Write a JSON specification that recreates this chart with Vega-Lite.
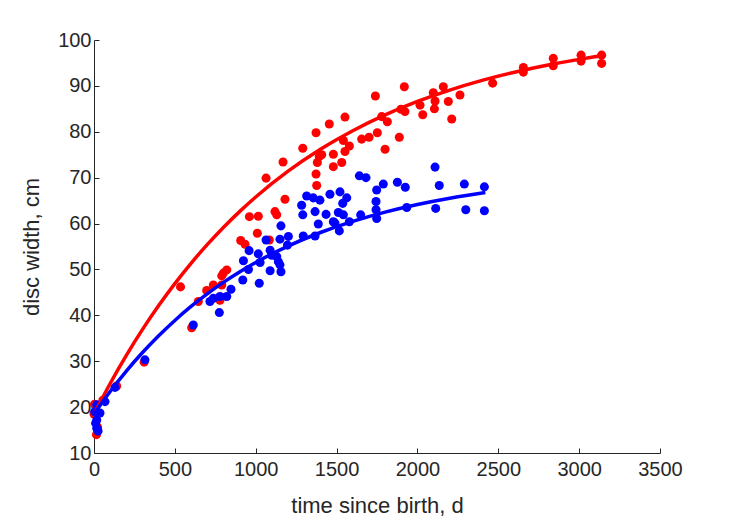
{
  "$schema": "https://vega.github.io/schema/vega-lite/v6.json",
  "autosize": {"type": "none"},
  "padding": {"left": 94, "top": 40, "right": 69, "bottom": 68},
  "width": 566,
  "height": 413,
  "background": "white",
  "config": {
    "view": {"stroke": null},
    "font": "Liberation Sans",
    "axis": {
      "grid": false,
      "domainColor": "#262626",
      "domainWidth": 1,
      "tickColor": "#262626",
      "tickSize": -5,
      "labelColor": "#262626",
      "labelFontSize": 20,
      "labelFont": "Liberation Sans",
      "titleColor": "#262626",
      "titleFontSize": 22,
      "titleFont": "Liberation Sans",
      "titleFontWeight": "normal",
      "format": "d"
    }
  },
  "datasets": {
    "redPts": [
      {"t": 3, "w": 20.6}, {"t": 0, "w": 18.5}, {"t": 22, "w": 15.6}, {"t": 15, "w": 14.0}, {"t": 55, "w": 21.5}, {"t": 140, "w": 24.6},
      {"t": 310, "w": 29.8}, {"t": 535, "w": 46.2}, {"t": 604, "w": 37.3}, {"t": 645, "w": 43.0}, {"t": 697, "w": 45.4},
      {"t": 738, "w": 46.6}, {"t": 779, "w": 43.3}, {"t": 790, "w": 46.6}, {"t": 790, "w": 48.6}, {"t": 800, "w": 49.2},
      {"t": 821, "w": 49.9}, {"t": 907, "w": 56.3}, {"t": 934, "w": 55.5}, {"t": 961, "w": 61.5}, {"t": 1010, "w": 57.9},
      {"t": 1016, "w": 61.6}, {"t": 1064, "w": 69.9}, {"t": 1084, "w": 56.4}, {"t": 1119, "w": 62.6}, {"t": 1130, "w": 61.9},
      {"t": 1169, "w": 73.4}, {"t": 1181, "w": 65.3}, {"t": 1291, "w": 76.4}, {"t": 1373, "w": 79.8}, {"t": 1373, "w": 70.8},
      {"t": 1377, "w": 68.3}, {"t": 1381, "w": 73.3}, {"t": 1393, "w": 74.6}, {"t": 1408, "w": 75.0}, {"t": 1455, "w": 81.7},
      {"t": 1480, "w": 75.1}, {"t": 1480, "w": 72.4}, {"t": 1532, "w": 73.3}, {"t": 1542, "w": 78.1}, {"t": 1552, "w": 83.2},
      {"t": 1552, "w": 75.7}, {"t": 1579, "w": 76.9}, {"t": 1655, "w": 78.4}, {"t": 1701, "w": 78.8}, {"t": 1740, "w": 87.8},
      {"t": 1752, "w": 79.8}, {"t": 1779, "w": 83.3}, {"t": 1800, "w": 76.2}, {"t": 1814, "w": 82.2}, {"t": 1888, "w": 78.8},
      {"t": 1898, "w": 84.9}, {"t": 1919, "w": 89.8}, {"t": 1923, "w": 84.4}, {"t": 2016, "w": 85.8}, {"t": 2033, "w": 83.7},
      {"t": 2098, "w": 88.5}, {"t": 2105, "w": 85.0}, {"t": 2109, "w": 86.7}, {"t": 2160, "w": 89.8}, {"t": 2191, "w": 86.6},
      {"t": 2212, "w": 82.8}, {"t": 2263, "w": 88.0}, {"t": 2465, "w": 90.6}, {"t": 2655, "w": 94.0}, {"t": 2655, "w": 93.0},
      {"t": 2840, "w": 96.0}, {"t": 2840, "w": 94.4}, {"t": 3012, "w": 96.7}, {"t": 3012, "w": 95.4}, {"t": 3139, "w": 96.7},
      {"t": 3139, "w": 94.9}
    ],
    "bluePts": [
      {"t": 17, "w": 20.5}, {"t": 37, "w": 18.7}, {"t": 17, "w": 17.2}, {"t": 17, "w": 15.4}, {"t": 25, "w": 14.8},
      {"t": 5, "w": 19.0}, {"t": 10, "w": 16.5}, {"t": 68, "w": 21.2}, {"t": 130, "w": 24.3}, {"t": 315, "w": 30.3},
      {"t": 614, "w": 37.9}, {"t": 717, "w": 43.0}, {"t": 738, "w": 43.7}, {"t": 775, "w": 40.6}, {"t": 779, "w": 44.1},
      {"t": 821, "w": 44.1}, {"t": 847, "w": 45.7}, {"t": 920, "w": 47.7}, {"t": 924, "w": 51.9}, {"t": 955, "w": 50.0},
      {"t": 959, "w": 54.1}, {"t": 1016, "w": 53.4}, {"t": 1022, "w": 47.0}, {"t": 1027, "w": 51.5}, {"t": 1064, "w": 56.4},
      {"t": 1089, "w": 54.2}, {"t": 1089, "w": 49.7}, {"t": 1099, "w": 53.1}, {"t": 1130, "w": 52.8}, {"t": 1140, "w": 51.7},
      {"t": 1150, "w": 51.0}, {"t": 1150, "w": 56.6}, {"t": 1156, "w": 59.5}, {"t": 1156, "w": 49.5}, {"t": 1196, "w": 55.3},
      {"t": 1202, "w": 57.2}, {"t": 1284, "w": 64.0}, {"t": 1291, "w": 61.9}, {"t": 1294, "w": 57.3}, {"t": 1315, "w": 66.0},
      {"t": 1356, "w": 65.6}, {"t": 1367, "w": 62.6}, {"t": 1367, "w": 57.3}, {"t": 1387, "w": 59.9}, {"t": 1397, "w": 65.1},
      {"t": 1435, "w": 62.0}, {"t": 1459, "w": 66.4}, {"t": 1480, "w": 60.4}, {"t": 1490, "w": 60.1}, {"t": 1511, "w": 62.4},
      {"t": 1517, "w": 58.4}, {"t": 1521, "w": 66.9}, {"t": 1538, "w": 64.4}, {"t": 1542, "w": 61.9}, {"t": 1563, "w": 65.6},
      {"t": 1579, "w": 60.4}, {"t": 1641, "w": 70.4}, {"t": 1649, "w": 61.9}, {"t": 1682, "w": 70.0}, {"t": 1744, "w": 64.8},
      {"t": 1744, "w": 63.0}, {"t": 1748, "w": 61.1}, {"t": 1748, "w": 67.3}, {"t": 1789, "w": 68.6}, {"t": 1876, "w": 69.0},
      {"t": 1925, "w": 67.9}, {"t": 1934, "w": 63.5}, {"t": 2109, "w": 72.3}, {"t": 2113, "w": 63.3}, {"t": 2135, "w": 68.3},
      {"t": 2290, "w": 68.6}, {"t": 2299, "w": 63.0}, {"t": 2414, "w": 68.0}, {"t": 2414, "w": 62.8}
    ],
    "redFit": [
      {"t": 0, "w": 18.5}, {"t": 100, "w": 25.15}, {"t": 200, "w": 31.28}, {"t": 300, "w": 36.93}, {"t": 400, "w": 42.13},
      {"t": 500, "w": 46.92}, {"t": 600, "w": 51.34}, {"t": 700, "w": 55.40}, {"t": 800, "w": 59.15}, {"t": 900, "w": 62.60},
      {"t": 1000, "w": 65.79}, {"t": 1200, "w": 71.41}, {"t": 1400, "w": 76.19}, {"t": 1600, "w": 80.24}, {"t": 1800, "w": 83.68},
      {"t": 2000, "w": 86.61}, {"t": 2200, "w": 89.09}, {"t": 2400, "w": 91.20}, {"t": 2600, "w": 92.98}, {"t": 2800, "w": 94.49},
      {"t": 3000, "w": 95.78}, {"t": 3140, "w": 96.56}
    ],
    "blueFit": [
      {"t": 0, "w": 18.5}, {"t": 100, "w": 23.40}, {"t": 200, "w": 27.85}, {"t": 300, "w": 31.89}, {"t": 400, "w": 35.56},
      {"t": 500, "w": 38.89}, {"t": 600, "w": 41.93}, {"t": 700, "w": 44.68}, {"t": 800, "w": 47.18}, {"t": 900, "w": 49.45},
      {"t": 1000, "w": 51.52}, {"t": 1200, "w": 55.09}, {"t": 1400, "w": 58.05}, {"t": 1600, "w": 60.49}, {"t": 1800, "w": 62.50},
      {"t": 2000, "w": 64.16}, {"t": 2200, "w": 65.53}, {"t": 2420, "w": 66.76}
    ]
  },
  "encoding": {
    "x": {
      "field": "t", "type": "quantitative",
      "scale": {"domain": [0, 3500], "nice": false, "zero": false},
      "axis": {"values": [0, 500, 1000, 1500, 2000, 2500, 3000, 3500], "title": "time since birth, d", "labelPadding": 11, "titlePadding": 16, "labelFlush": false}
    },
    "y": {
      "field": "w", "type": "quantitative",
      "scale": {"domain": [10, 100], "nice": false, "zero": false},
      "axis": {"values": [10, 20, 30, 40, 50, 60, 70, 80, 90, 100], "title": "disc width, cm", "labelPadding": 8, "titlePadding": 14, "labelFlush": false}
    }
  },
  "layer": [
    {"data": {"name": "redPts"}, "mark": {"type": "circle", "size": 82, "color": "#FF0000", "opacity": 1}},
    {"data": {"name": "bluePts"}, "mark": {"type": "circle", "size": 82, "color": "#0000FF", "opacity": 1}},
    {"data": {"name": "redFit"}, "mark": {"type": "line", "color": "#FF0000", "strokeWidth": 3.5, "interpolate": "monotone"}},
    {"data": {"name": "blueFit"}, "mark": {"type": "line", "color": "#0000FF", "strokeWidth": 3.5, "interpolate": "monotone"}}
  ]
}
